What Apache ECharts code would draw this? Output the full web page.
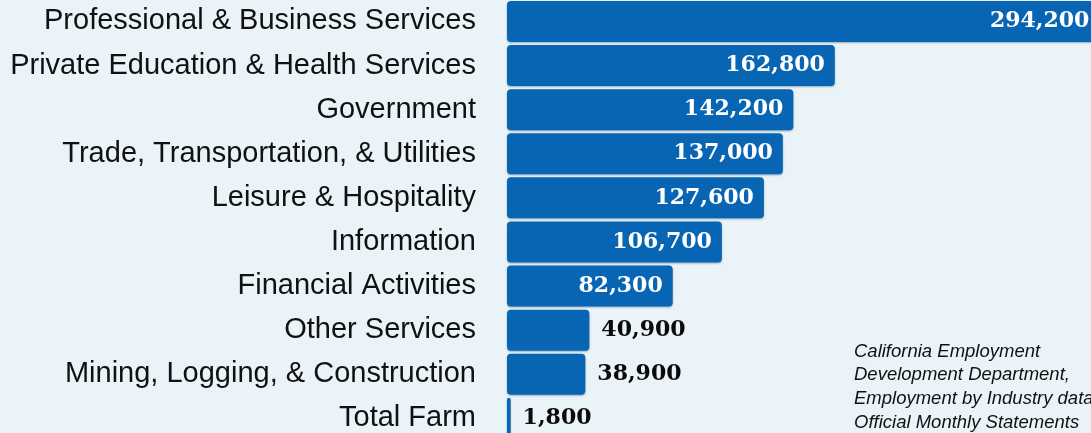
<!DOCTYPE html>
<html>
<head>
<meta charset="utf-8">
<script src="https://cdn.jsdelivr.net/npm/echarts@6/dist/echarts.min.js"></script>
<style>
  html, body { margin: 0; padding: 0; background: #eaf3f7; }
  #chart { width: 1091px; height: 433px; }
</style>
</head>
<body>
<div id="chart"></div>
<script>
// industries, top to bottom
const industries = [
    'Professional & Business Services',
    'Private Education & Health Services',
    'Government',
    'Trade, Transportation, & Utilities',
    'Leisure & Hospitality',
    'Information',
    'Financial Activities',
    'Other Services',
    'Mining, Logging, & Construction',
    'Total Farm'
];
const jobs = [294200, 162800, 142200, 137000, 127600, 106700, 82300, 40900, 38900, 1800];
const sourceLines = [
    'California Employment',
    'Development Department,',
    'Employment by Industry data',
    'Official Monthly Statements'
];

const chart = echarts.init(document.getElementById('chart'));

// big bars get the label inside in white, short ones outside in black
const barData = jobs.map(v => {
    const inside = v > 60000;
    return {
        value: v,
        label: inside
            ? { position: 'insideRight', distance: 10, color: '#ffffff' }
            : { position: 'right', distance: 12, color: '#0a0a0a' }
    };
});

chart.setOption({
    backgroundColor: '#eaf3f7',
    animation: false,
    // grid runs a little past the canvas so the top bar is cut off like the original
    grid: { left: 507, right: -10, top: -0.6, height: 441, outerBoundsMode: 'none' },
    xAxis: {
        type: 'value',
        min: 0,
        max: 295000,
        show: false
    },
    yAxis: {
        type: 'category',
        data: industries,
        inverse: true,
        axisLine: { show: false },
        axisTick: { show: false },
        axisLabel: {
            margin: 31,
            fontFamily: 'Liberation Sans, Arial, sans-serif',
            fontSize: 29,
            color: '#111111'
        }
    },
    series: [{
        type: 'bar',
        data: barData,
        barWidth: 41,
        itemStyle: {
            color: '#0865b3',
            borderRadius: 4,
            shadowColor: 'rgba(0,40,90,0.35)',
            shadowBlur: 2,
            shadowOffsetY: 1
        },
        label: {
            show: true,
            fontFamily: 'DejaVu Serif, Georgia, serif',
            fontWeight: 'bold',
            fontSize: 22,
            formatter: p => p.value.toLocaleString('en-US')
        }
    }],
    graphic: sourceLines.map((t, i) => ({
        type: 'text',
        left: 854,
        top: 342 + i * 23.7,
        style: {
            text: t,
            font: 'italic 18.5px "Liberation Sans", Arial, sans-serif',
            fill: '#111111'
        }
    }))
});
</script>
</body>
</html>
